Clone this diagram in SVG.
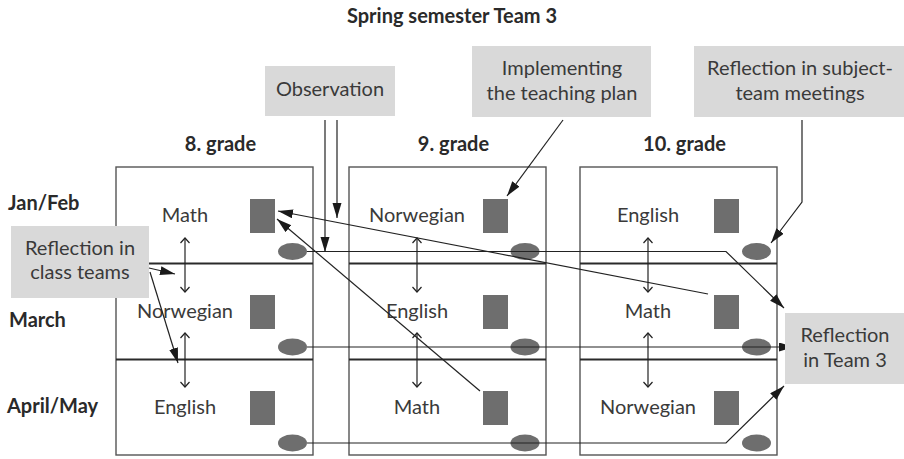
<svg xmlns="http://www.w3.org/2000/svg" width="904" height="459" viewBox="0 0 904 459">
<style>
.t{font-family:Lato,"Open Sans","Liberation Sans",sans-serif;font-size:20px;font-weight:400;fill:#3a3a3a;text-anchor:middle}
.b{font-family:Lato,"Open Sans","Liberation Sans",sans-serif;font-size:20px;font-weight:700;fill:#2a2a2a}
.c{text-anchor:middle}
.col{fill:#fff;stroke:#555;stroke-width:1.4}
.div{stroke:#2a2a2a;stroke-width:2}
.box{fill:#d9d9d9}
.sq{fill:#6e6e6e}
.ov{fill:#6e6e6e}
.ln{fill:none;stroke:#222;stroke-width:1.2}
.arr{marker-end:url(#ah)}
.dbl{fill:none;stroke:#222;stroke-width:1.2;marker-start:url(#ch);marker-end:url(#ch)}
</style>
<defs>
<marker id="ah" markerUnits="userSpaceOnUse" markerWidth="16" markerHeight="10" refX="15" refY="4.5" orient="auto"><path d="M0,0 L15,4.5 L0,9 z" fill="#1a1a1a"/></marker>
<marker id="ch" markerUnits="userSpaceOnUse" markerWidth="8" markerHeight="12" refX="6" refY="5" orient="auto-start-reverse"><path d="M1,0.5 L6,5 L1,9.5" fill="none" stroke="#222" stroke-width="1.2"/></marker>
</defs>
<rect width="904" height="459" fill="#fff"/>
<text class="b c" x="452" y="23">Spring semester Team 3</text>
<text class="b c" x="220.5" y="151">8. grade</text>
<text class="b c" x="453.5" y="151">9. grade</text>
<text class="b c" x="684.5" y="151">10. grade</text>
<text class="b" x="8" y="210">Jan/Feb</text>
<text class="b" x="9" y="327">March</text>
<text class="b" x="7" y="413">April/May</text>

<g id="grade8">
<rect class="col" x="116" y="167" width="197" height="288"/>
<line class="div" x1="116" y1="263.5" x2="313" y2="263.5"/>
<line class="div" x1="116" y1="359.5" x2="313" y2="359.5"/>
<text class="t" x="185" y="222">Math</text>
<text class="t" x="185" y="318">Norwegian</text>
<text class="t" x="185" y="414">English</text>
<rect class="sq" x="250" y="199" width="25" height="34"/>
<rect class="sq" x="250" y="295" width="25" height="34"/>
<rect class="sq" x="250" y="391" width="25" height="34"/>
<ellipse class="ov" cx="292.5" cy="251.5" rx="14.5" ry="8.5"/>
<ellipse class="ov" cx="292.5" cy="347" rx="14.5" ry="8.5"/>
<ellipse class="ov" cx="292.5" cy="443" rx="14.5" ry="8.5"/>
</g>
<g id="grade9">
<rect class="col" x="349" y="167" width="197" height="288"/>
<line class="div" x1="349" y1="263.5" x2="546" y2="263.5"/>
<line class="div" x1="349" y1="359.5" x2="546" y2="359.5"/>
<text class="t" x="417" y="222">Norwegian</text>
<text class="t" x="417" y="318">English</text>
<text class="t" x="417" y="414">Math</text>
<rect class="sq" x="483" y="199" width="25" height="34"/>
<rect class="sq" x="483" y="295" width="25" height="34"/>
<rect class="sq" x="483" y="391" width="25" height="34"/>
<ellipse class="ov" cx="525" cy="251.5" rx="14.5" ry="8.5"/>
<ellipse class="ov" cx="525" cy="347" rx="14.5" ry="8.5"/>
<ellipse class="ov" cx="525" cy="443" rx="14.5" ry="8.5"/>
</g>
<g id="grade10">
<rect class="col" x="580" y="167" width="197" height="288"/>
<line class="div" x1="580" y1="263.5" x2="777" y2="263.5"/>
<line class="div" x1="580" y1="359.5" x2="777" y2="359.5"/>
<text class="t" x="648" y="222">English</text>
<text class="t" x="648" y="318">Math</text>
<text class="t" x="648" y="414">Norwegian</text>
<rect class="sq" x="714" y="199" width="25" height="34"/>
<rect class="sq" x="714" y="295" width="25" height="34"/>
<rect class="sq" x="714" y="391" width="25" height="34"/>
<ellipse class="ov" cx="756.5" cy="251.5" rx="14.5" ry="8.5"/>
<ellipse class="ov" cx="756.5" cy="347" rx="14.5" ry="8.5"/>
<ellipse class="ov" cx="756.5" cy="443" rx="14.5" ry="8.5"/>
</g>

<g id="observation"><rect class="box" x="265" y="66" width="130" height="50"/><text class="t" x="330" y="96">Observation</text></g>
<g id="implementing"><rect class="box" x="472" y="46" width="179" height="71"/><text class="t" x="562" y="75">Implementing</text><text class="t" x="562" y="100">the teaching plan</text></g>
<g id="subjectteam"><rect class="box" x="694" y="46" width="210" height="71"/><text class="t" x="800" y="75">Reflection in subject-</text><text class="t" x="800" y="100">team meetings</text></g>
<g id="classteams"><rect class="box" x="11" y="226" width="138" height="72"/><text class="t" x="80" y="255">Reflection in</text><text class="t" x="80" y="279">class teams</text></g>

<g id="connectors">
<line class="dbl" x1="185" y1="238" x2="185" y2="292"/>
<line class="dbl" x1="185" y1="333" x2="185" y2="387"/>
<line class="dbl" x1="417" y1="238" x2="417" y2="292"/>
<line class="dbl" x1="417" y1="333" x2="417" y2="387"/>
<line class="dbl" x1="648" y1="238" x2="648" y2="292"/>
<line class="dbl" x1="648" y1="333" x2="648" y2="387"/>
<polyline class="ln arr" points="307,251.5 726,251.5 784,308"/>
<polyline class="ln arr" points="307,347 794,347"/>
<polyline class="ln arr" points="307,443 726,443 784,386"/>
<line class="ln arr" x1="325" y1="120" x2="325" y2="252"/>
<line class="ln arr" x1="337" y1="120" x2="337" y2="218"/>
<line class="ln arr" x1="563" y1="120" x2="507" y2="196"/>
<polyline class="ln arr" points="802,120 802,202 771,243"/>
<line class="ln arr" x1="149" y1="268" x2="175" y2="274"/>
<line class="ln arr" x1="150" y1="272" x2="178" y2="363"/>
<line class="ln arr" x1="708" y1="294" x2="278" y2="211"/>
<line class="ln arr" x1="480" y1="391" x2="277" y2="219"/>
</g>
<g id="team3"><rect class="box" x="785" y="313" width="119" height="71"/><text class="t" x="845" y="342">Reflection</text><text class="t" x="845" y="367">in Team 3</text></g>
</svg>
